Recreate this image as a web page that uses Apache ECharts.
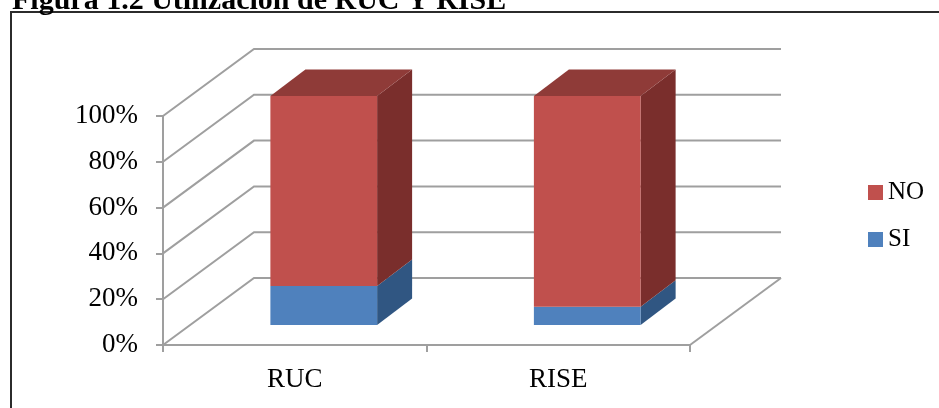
<!DOCTYPE html>
<html>
<head>
<meta charset="utf-8">
<title>Figura 1.2 Utilización de RUC Y RISE</title>
<script src="https://cdn.jsdelivr.net/npm/echarts@6/dist/echarts.min.js"></script>
<style>
  html, body { margin: 0; padding: 0; background: #fff; }
  #chart { width: 939px; height: 408px; }
</style>
</head>
<body>
<div id="chart"></div>
<script>
// Data
const categories = ['RUC', 'RISE'];
const siValues = [17, 8];
const noValues = [83, 92];
const yTicks = [0, 20, 40, 60, 80, 100];

// 3D look: oblique offsets in pixels
const WALL_DEPTH = [91, -67];   // back wall relative to the front plane
const BAR_FRONT = [29, -20];    // front face of each column
const BAR_BACK = [64, -46.5];   // back face of each column
const BAR_FRACTION = 0.405;     // column width relative to category band

const FONT = "'Liberation Serif', 'DejaVu Serif', serif";
const GRID_COLOR = '#9f9f9f';

const chart = echarts.init(document.getElementById('chart'), null, { renderer: 'canvas' });

function renderWalls(params, api) {
  const v = api.value(0);
  const cs = params.coordSys;
  const y = api.coord([0, v])[1];
  const x0 = cs.x, xR = cs.x + cs.width;
  const children = [{
    type: 'polyline',
    shape: { points: [[x0, y], [x0 + WALL_DEPTH[0], y + WALL_DEPTH[1]], [xR + WALL_DEPTH[0], y + WALL_DEPTH[1]]] },
    style: { stroke: GRID_COLOR, lineWidth: 2, fill: null }
  }];
  if (v === 0) {
    children.push({
      type: 'line',
      shape: { x1: xR, y1: y, x2: xR + WALL_DEPTH[0], y2: y + WALL_DEPTH[1] },
      style: { stroke: GRID_COLOR, lineWidth: 2 }
    });
  }
  return { type: 'group', children };
}

function makeBoxRenderer(colors, isTop) {
  return function (params, api) {
    const cat = api.value(0), v0 = api.value(1), v1 = api.value(2);
    const base = api.coord([cat, v0]);
    const top = api.coord([cat, v1]);
    const w = api.size([1, 0])[0] * BAR_FRACTION;
    const xl = base[0] - w / 2 + BAR_FRONT[0];
    const xr = base[0] + w / 2 + BAR_FRONT[0];
    const yb = base[1] + BAR_FRONT[1];
    const yt = top[1] + BAR_FRONT[1];
    const dx = BAR_BACK[0] - BAR_FRONT[0], dy = BAR_BACK[1] - BAR_FRONT[1];
    const children = [
      {
        type: 'polygon',
        shape: { points: [[xr, yt], [xr + dx, yt + dy], [xr + dx, yb + dy], [xr, yb]] },
        style: { fill: colors.side }
      },
      {
        type: 'rect',
        shape: { x: xl, y: yt, width: xr - xl, height: yb - yt },
        style: { fill: colors.front }
      }
    ];
    if (isTop) {
      children.push({
        type: 'polygon',
        shape: { points: [[xl, yt], [xl + dx, yt + dy], [xr + dx, yt + dy], [xr, yt]] },
        style: { fill: colors.top }
      });
    }
    return { type: 'group', children };
  };
}

const siData = categories.map((c, i) => [i, 0, siValues[i]]);
const noData = categories.map((c, i) => [i, siValues[i], siValues[i] + noValues[i]]);

const option = {
  animation: false,
  backgroundColor: '#fff',
  title: {
    text: 'Figura 1.2 Utilización de RUC Y RISE',
    left: 7,
    top: -19,
    textStyle: { fontFamily: FONT, fontSize: 30, fontWeight: 'bold', color: '#000' }
  },
  graphic: [{
    type: 'polyline',
    shape: { points: [[11, 420], [11, 12], [950, 12]] },
    style: { stroke: '#2b2b2b', lineWidth: 2, fill: null },
    silent: true
  }],
  legend: {
    orient: 'vertical',
    left: 863,
    top: 175,
    itemWidth: 15,
    itemHeight: 15,
    itemGap: 22,
    icon: 'rect',
    data: ['NO', 'SI'],
    textStyle: { fontFamily: FONT, fontSize: 25, color: '#000', padding: [0, 0, 0, 0] }
  },
  grid: { left: 163, right: 249, top: 116, bottom: 63, containLabel: false },
  xAxis: {
    type: 'category',
    data: categories,
    boundaryGap: true,
    axisLine: { show: true, lineStyle: { color: GRID_COLOR, width: 2 } },
    axisTick: { show: true, length: 7, inside: false, lineStyle: { color: GRID_COLOR, width: 2 } },
    axisLabel: { margin: 21, fontFamily: FONT, fontSize: 27, color: '#000' },
    splitLine: { show: false }
  },
  yAxis: {
    type: 'value',
    min: 0,
    max: 100,
    interval: 20,
    axisLine: { show: true, lineStyle: { color: GRID_COLOR, width: 2 } },
    axisTick: { show: true, length: 7, inside: false, lineStyle: { color: GRID_COLOR, width: 2 } },
    axisLabel: { margin: 25, fontFamily: FONT, fontSize: 27, color: '#000', formatter: v => v + '%' },
    splitLine: { show: false }
  },
  series: [
    {
      name: 'walls',
      type: 'custom',
      silent: true,
      z: 1,
      renderItem: renderWalls,
      encode: { y: 0 },
      data: yTicks.map(v => [v])
    },
    {
      name: 'SI',
      type: 'custom',
      z: 2,
      itemStyle: { color: '#4F81BD' },
      renderItem: makeBoxRenderer({ front: '#4F81BD', side: '#305682', top: '#3F6A9E' }, false),
      encode: { x: 0, y: [1, 2] },
      data: siData
    },
    {
      name: 'NO',
      type: 'custom',
      z: 3,
      itemStyle: { color: '#C0504D' },
      renderItem: makeBoxRenderer({ front: '#C0504D', side: '#7A2E2C', top: '#8F3B38' }, true),
      encode: { x: 0, y: [1, 2] },
      data: noData
    }
  ]
};

chart.setOption(option);
</script>
</body>
</html>
